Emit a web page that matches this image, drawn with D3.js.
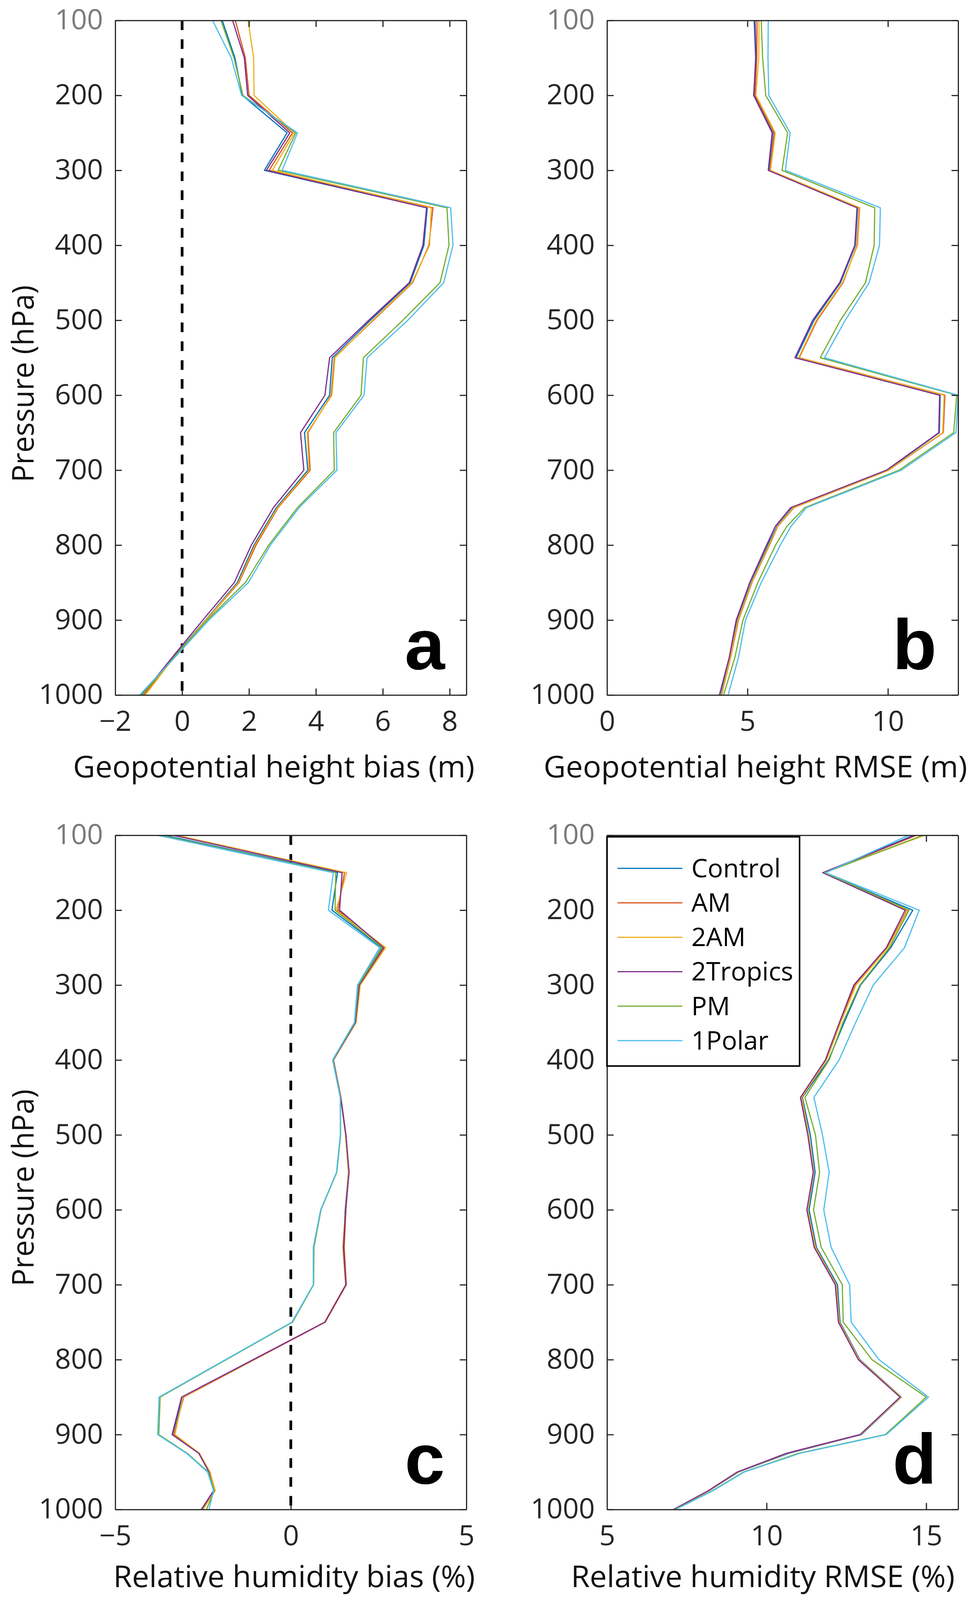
<!DOCTYPE html>
<html>
<head>
<meta charset="utf-8">
<script src="https://cdn.jsdelivr.net/npm/d3@7"></script>
<style>
  html, body { margin: 0; padding: 0; background: #ffffff; overflow: hidden; width: 100%; height: 100%; }
  svg { display: block; width: 100vw; height: 100vh; }
</style>
</head>
<body>
<svg id="chart" viewBox="0 0 2491 4153" preserveAspectRatio="none"></svg>
<script>
// ---------------- DATA ----------------
const seriesNames = ["Control", "AM", "2AM", "2Tropics", "PM", "1Polar"];
const seriesColors = ["#0072BD", "#D95319", "#EDB120", "#7E2F8E", "#77AC30", "#4DBEEE"];

const pressureTicks = [100, 200, 300, 400, 500, 600, 700, 800, 900, 1000];

// Panel a: Geopotential height bias (m)
const levelsA = [100,150,200,250,300,350,400,450,500,550,600,650,700,750,800,850,900,950,1000];
const gphBias = {
  "Control":  [1.20,1.58,1.80,3.14,2.46,7.33,7.23,6.82,5.63,4.49,4.41,3.66,3.76,2.82,2.15,1.65,0.70,-0.27,-1.22],
  "AM":       [1.59,1.89,2.00,3.30,2.60,7.50,7.38,6.89,5.72,4.55,4.46,3.76,3.83,2.87,2.21,1.70,0.72,-0.25,-1.15],
  "2AM":      [1.97,2.14,2.15,3.36,2.70,7.45,7.40,6.87,5.70,4.57,4.48,3.74,3.80,2.85,2.18,1.68,0.71,-0.25,-1.10],
  "2Tropics": [1.51,1.86,1.96,3.22,2.52,7.31,7.20,6.79,5.58,4.41,4.27,3.54,3.64,2.73,2.07,1.56,0.62,-0.30,-1.20],
  "PM":       [1.16,1.55,1.82,3.40,2.87,7.92,7.98,7.71,6.60,5.42,5.35,4.53,4.55,3.45,2.59,1.89,0.75,-0.25,-1.20],
  "1Polar":   [0.91,1.47,1.78,3.45,2.99,8.03,8.10,7.82,6.75,5.53,5.44,4.60,4.63,3.50,2.64,1.98,0.80,-0.22,-1.27]
};

// Panel b: Geopotential height RMSE (m)
const levelsB = [100,150,200,250,300,350,400,450,500,550,600,650,700,750,775,800,850,900,950,1000];
const gphRmse = {
  "Control":  [5.24,5.29,5.23,5.90,5.76,8.92,8.84,8.31,7.37,6.73,11.86,11.83,9.98,6.60,6.05,5.72,5.13,4.63,4.36,4.05],
  "AM":       [5.34,5.33,5.27,5.95,5.80,8.98,8.90,8.40,7.48,6.84,12.03,11.97,10.03,6.65,6.08,5.78,5.16,4.68,4.40,4.08],
  "2AM":      [5.41,5.40,5.30,5.99,5.82,9.00,8.92,8.38,7.45,6.82,12.00,11.95,10.02,6.63,6.07,5.76,5.15,4.66,4.39,4.07],
  "2Tropics": [5.27,5.30,5.22,5.88,5.74,8.90,8.82,8.28,7.32,6.69,11.84,11.81,9.95,6.54,5.99,5.68,5.08,4.60,4.35,4.00],
  "PM":       [5.49,5.54,5.65,6.43,6.23,9.53,9.51,9.20,8.31,7.59,12.45,12.34,10.40,7.04,6.40,6.00,5.37,4.84,4.55,4.15],
  "1Polar":   [5.74,5.73,5.76,6.52,6.35,9.73,9.70,9.33,8.48,7.74,12.50,12.42,10.48,7.10,6.55,6.17,5.49,4.93,4.68,4.31]
};

// Panel c: Relative humidity bias (%)
const levelsC = [100,150,200,250,300,350,400,450,500,550,600,650,700,750,800,850,900,925,950,975,1000];
const rhBias = {
  "Control":  [-3.60,1.33,1.17,2.58,1.93,1.82,1.20,1.42,1.56,1.64,1.55,1.50,1.57,0.97,-1.05,-3.08,-3.37,-2.62,-2.33,-2.20,-2.52],
  "AM":       [-3.30,1.53,1.34,2.66,1.96,1.85,1.21,1.43,1.57,1.65,1.57,1.52,1.58,0.98,-1.04,-3.05,-3.33,-2.60,-2.32,-2.18,-2.55],
  "2AM":      [-3.25,1.59,1.29,2.70,1.98,1.86,1.22,1.43,1.56,1.64,1.56,1.48,1.56,0.96,-1.06,-3.07,-3.30,-2.60,-2.30,-2.15,-2.50],
  "2Tropics": [-3.35,1.46,1.39,2.64,1.95,1.84,1.21,1.42,1.57,1.66,1.56,1.50,1.57,0.97,-1.07,-3.11,-3.38,-2.62,-2.33,-2.20,-2.55],
  "PM":       [-3.70,1.28,1.26,2.60,1.92,1.82,1.20,1.41,1.42,1.31,0.86,0.66,0.65,0.05,-1.84,-3.72,-3.76,-2.95,-2.35,-2.18,-2.40],
  "1Polar":   [-3.80,1.21,1.07,2.53,1.90,1.81,1.19,1.41,1.41,1.30,0.85,0.64,0.64,0.03,-1.86,-3.75,-3.79,-2.97,-2.37,-2.20,-2.33]
};

// Panel d: Relative humidity RMSE (%)
const levelsD = [100,150,200,250,300,350,400,450,500,550,600,650,700,750,800,850,900,925,950,975,1000];
const rhRmse = {
  "Control":  [14.60,11.80,14.58,13.89,12.94,12.43,11.94,11.12,11.37,11.52,11.33,11.56,12.22,12.30,12.92,14.22,12.97,10.70,9.12,8.20,7.10],
  "AM":       [14.70,11.78,14.40,13.78,12.77,12.30,11.86,11.08,11.30,11.47,11.27,11.52,12.16,12.26,12.88,14.20,12.94,10.64,9.10,8.18,7.10],
  "2AM":      [14.95,11.80,14.42,13.80,12.80,12.32,11.88,11.10,11.32,11.48,11.29,11.53,12.18,12.28,12.90,14.21,12.95,10.65,9.10,8.19,7.12],
  "2Tropics": [14.65,11.76,14.34,13.75,12.73,12.28,11.84,11.06,11.29,11.46,11.26,11.49,12.15,12.25,12.87,14.18,12.93,10.62,9.08,8.17,7.08],
  "PM":       [14.90,11.82,14.46,13.85,12.92,12.39,11.96,11.20,11.53,11.66,11.47,11.71,12.37,12.40,13.30,15.00,13.72,11.00,9.28,8.30,7.12],
  "1Polar":   [14.45,11.85,14.78,14.32,13.34,12.79,12.27,11.48,11.75,11.96,11.79,12.02,12.60,12.65,13.52,15.07,13.75,11.05,9.30,8.32,7.15]
};

const xTicksA = [-2, 0, 2, 4, 6, 8];
const xTicksB = [0, 5, 10];
const xTicksC = [-5, 0, 5];
const xTicksD = [5, 10, 15];

const xLabelA = "Geopotential height bias (m)";
const xLabelB = "Geopotential height RMSE (m)";
const xLabelC = "Relative humidity bias (%)";
const xLabelD = "Relative humidity RMSE (%)";
const yLabel = "Pressure (hPa)";

// ---------------- LAYOUT ----------------
const svg = d3.select("#chart");
svg.append("rect").attr("width", 2491).attr("height", 4153).attr("fill", "#ffffff");

const FONT = "'Open Sans', 'Noto Sans', sans-serif";
const AXIS_COLOR = "#262626";

const panels = [
  { id: "a", levels: levelsA, data: gphBias, domain: [-2, 8.5], ticks: xTicksA, label: xLabelA,
    left: 295, right: 1194, top: 53, bottom: 1804, labelCx: 701, labelY: 2018, zeroLine: true, yTitle: true, yTitleCy: 996 },
  { id: "b", levels: levelsB, data: gphRmse, domain: [0, 12.5], ticks: xTicksB, label: xLabelB,
    left: 1554, right: 2453, top: 53, bottom: 1804, labelCx: 1934, labelY: 2018, zeroLine: false, yTitle: false },
  { id: "c", levels: levelsC, data: rhBias, domain: [-5, 5], ticks: xTicksC, label: xLabelC,
    left: 295, right: 1194, top: 2168, bottom: 3918, labelCx: 753, labelY: 4120, zeroLine: true, yTitle: true, yTitleCy: 3083 },
  { id: "d", levels: levelsD, data: rhRmse, domain: [5, 16], ticks: xTicksD, label: xLabelD,
    left: 1554, right: 2453, top: 2168, bottom: 3918, labelCx: 1953, labelY: 4120, zeroLine: false, yTitle: false, legend: true }
];

function styleAxis(g) {
  g.attr("font-family", FONT).attr("font-size", 72);
  g.selectAll(".domain").attr("stroke", AXIS_COLOR).attr("stroke-width", 3);
  g.selectAll(".tick line").attr("stroke", AXIS_COLOR).attr("stroke-width", 3);
  g.selectAll(".tick text").attr("fill", AXIS_COLOR).attr("font-family", FONT).attr("font-size", 72);
}

panels.forEach(p => {
  const x = d3.scaleLinear().domain(p.domain).range([p.left, p.right]);
  const y = d3.scaleLinear().domain([100, 1000]).range([p.top, p.bottom]);
  const g = svg.append("g").attr("class", "panel-" + p.id);

  const clipId = "clip-" + p.id;
  svg.append("defs").append("clipPath").attr("id", clipId)
    .append("rect").attr("x", p.left).attr("y", p.top)
    .attr("width", p.right - p.left).attr("height", p.bottom - p.top);

  // zero dashed line
  if (p.zeroLine) {
    g.append("line")
      .attr("x1", x(0)).attr("x2", x(0))
      .attr("y1", y(100)).attr("y2", y(1000))
      .attr("stroke", "#000").attr("stroke-width", 7)
      .attr("stroke-dasharray", "25,24");
  }

  // data lines
  const line = d3.line()
    .x(d => x(d[1]))
    .y(d => y(d[0]));
  const lg = g.append("g").attr("clip-path", `url(#${clipId})`);
  seriesNames.forEach((name, i) => {
    const pts = p.levels.map((lev, k) => [lev, p.data[name][k]]);
    lg.append("path")
      .datum(pts)
      .attr("d", line)
      .attr("fill", "none")
      .attr("stroke", seriesColors[i])
      .attr("stroke-width", 3)
      .attr("stroke-linejoin", "round");
  });

  // axes (inward ticks on all four sides)
  const gBottom = g.append("g").attr("transform", `translate(0,${p.bottom})`)
    .call(d3.axisBottom(x).tickValues(p.ticks).tickSizeInner(-17).tickSizeOuter(0).tickPadding(42)
      .tickFormat(d => d < 0 ? "\u2212" + Math.abs(d) : String(d)));
  styleAxis(gBottom);
  gBottom.selectAll(".tick text").attr("dy", "0.71em");

  const gTop = g.append("g").attr("transform", `translate(0,${p.top})`)
    .call(d3.axisTop(x).tickValues(p.ticks).tickSizeInner(-17).tickSizeOuter(0).tickFormat(""));
  styleAxis(gTop);

  const gLeft = g.append("g").attr("transform", `translate(${p.left},0)`)
    .call(d3.axisLeft(y).tickValues(pressureTicks).tickSizeInner(-17).tickSizeOuter(0).tickPadding(31)
      .tickFormat(d3.format("d")));
  styleAxis(gLeft);
  gLeft.selectAll(".tick text").filter(d => d === 100).attr("fill", "#7a7a7a");

  const gRight = g.append("g").attr("transform", `translate(${p.right},0)`)
    .call(d3.axisRight(y).tickValues(pressureTicks).tickSizeInner(-17).tickSizeOuter(0).tickFormat(""));
  styleAxis(gRight);

  // x-axis title
  g.append("text")
    .attr("x", p.labelCx).attr("y", p.labelY)
    .attr("text-anchor", "middle")
    .attr("font-family", FONT).attr("font-size", 78)
    .attr("fill", "#111")
    .text(p.label);

  // y-axis title
  if (p.yTitle) {
    g.append("text")
      .attr("transform", `translate(86,${p.yTitleCy}) rotate(-90)`)
      .attr("text-anchor", "middle")
      .attr("font-family", FONT).attr("font-size", 76)
      .attr("fill", "#111")
      .text(yLabel);
  }

  // panel letter
  g.append("text")
    .attr("x", p.right - 55).attr("y", p.bottom - 67)
    .attr("text-anchor", "end")
    .attr("font-family", "'Liberation Sans', Arial, sans-serif")
    .attr("font-weight", "bold").attr("font-size", 185)
    .attr("fill", "#000")
    .text(p.id);

  // legend
  if (p.legend) {
    const lgd = g.append("g");
    lgd.append("rect")
      .attr("x", 1554).attr("y", 2172)
      .attr("width", 2047 - 1554).attr("height", 2767 - 2172)
      .attr("fill", "#fff").attr("stroke", "#000").attr("stroke-width", 4);
    const ly = d3.scalePoint().domain(seriesNames).range([2254, 2701]);
    seriesNames.forEach((name, i) => {
      lgd.append("line")
        .attr("x1", 1581).attr("x2", 1747)
        .attr("y1", ly(name)).attr("y2", ly(name))
        .attr("stroke", seriesColors[i]).attr("stroke-width", 3);
      lgd.append("text")
        .attr("x", 1770).attr("y", ly(name))
        .attr("dy", "0.35em")
        .attr("font-family", FONT).attr("font-size", 66)
        .attr("fill", "#000")
        .text(name);
    });
  }
});
</script>
</body>
</html>
